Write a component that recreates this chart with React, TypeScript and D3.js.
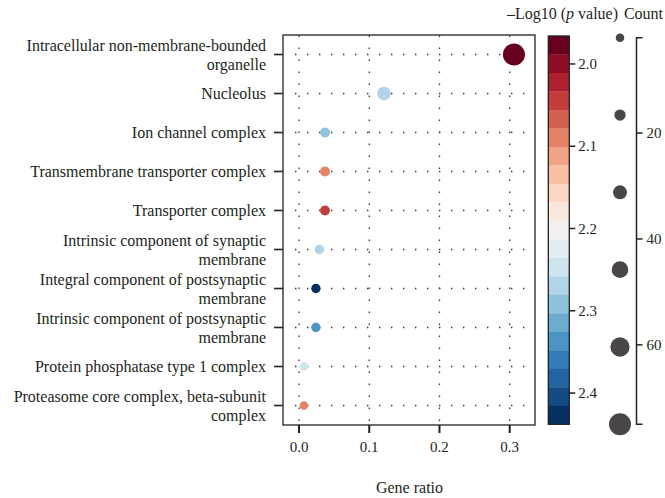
import React from "react";
import * as d3 from "d3";

const categories = [
  "Intracellular non-membrane-bounded\norganelle",
  "Nucleolus",
  "Ion channel complex",
  "Transmembrane transporter complex",
  "Transporter complex",
  "Intrinsic component of synaptic\nmembrane",
  "Integral component of postsynaptic\nmembrane",
  "Intrinsic component of postsynaptic\nmembrane",
  "Protein phosphatase type 1 complex",
  "Proteasome core complex, beta-subunit\ncomplex",
];
const geneRatio = [0.306, 0.121, 0.037, 0.037, 0.037, 0.029, 0.024, 0.024, 0.007, 0.007];
const counts = [75, 30, 9, 9, 9, 7, 6, 6, 2, 2];
const logP = [1.977, 2.27, 2.292, 2.09, 2.045, 2.27, 2.427, 2.337, 2.247, 2.09];

const xTicks = [0, 0.1, 0.2, 0.3];
const colorTicks = [2.0, 2.1, 2.2, 2.3, 2.4];
const countTicks = [20, 40, 60];
const legendCounts = [2, 16.6, 31.2, 45.8, 60.4, 75];
const nBands = 21;

const FONT = "'Liberation Serif', 'Times New Roman', serif";
const TXT = "#231f20";

export default function App() {
  const W = 665, H = 498;
  const plot = { l: 283, r: 535, t: 35, b: 425 };
  const x = d3.scaleLinear().domain([-0.0228, 0.336]).range([plot.l, plot.r]);
  const y = d3.scalePoint<string>().domain(categories).range([plot.t, plot.b]).padding(0.5);

  const bandColors = d3.range(nBands).map((i) => d3.interpolateRdBu(i / (nBands - 1)));
  const cDomain: [number, number] = [1.966, 2.438];
  const color = d3.scaleQuantize<string>().domain(cDomain).range(bandColors);
  const cb = { l: 548.3, r: 569.3, t: 36, b: 424.3 };
  const cy = d3.scaleLinear().domain(cDomain).range([cb.t, cb.b]);
  const bandH = (cb.b - cb.t) / nBands;

  const rScale = d3.scaleLinear().domain([2, 75]).range([4.3, 11]);
  const countY = d3.scaleLinear().domain([2, 75]).range([37.7, 424.3]);
  const axX = 636.5;
  const legX = 620;

  return (
    <svg width={W} height={H} style={{ position: "absolute", left: 0, top: 0, background: "#fff" }} fontFamily={FONT}>
      {/* grid */}
      <g stroke="#333" strokeWidth={1.3} strokeDasharray="1.4 10.6">
        {categories.map((c) => (
          <line key={"h" + c} x1={plot.l + 12} x2={plot.r} y1={y(c)} y2={y(c)} />
        ))}
        {xTicks.map((t) => (
          <line key={"v" + t} x1={x(t)} x2={x(t)} y1={plot.t + 0.5} y2={plot.b} />
        ))}
      </g>
      {/* points */}
      {categories.map((c, i) => (
        <circle key={"p" + i} cx={x(geneRatio[i])} cy={y(c)} r={rScale(counts[i])} fill={color(logP[i])} />
      ))}
      {/* frame */}
      <rect x={plot.l} y={plot.t} width={plot.r - plot.l} height={plot.b - plot.t} fill="none" stroke="#222" strokeWidth={1.3} />
      {/* y ticks & labels */}
      {categories.map((c) => {
        const yy = y(c)!;
        const lines = c.split("\n");
        return (
          <g key={"yl" + c}>
            <line x1={plot.l - 9} x2={plot.l} y1={yy} y2={yy} stroke="#222" strokeWidth={1.6} />
            {lines.length === 1 ? (
              <text x={266} y={yy + 5.5} textAnchor="end" fontSize={16} fill={TXT}>{lines[0]}</text>
            ) : (
              <text textAnchor="end" fontSize={16} fill={TXT}>
                <tspan x={266} y={yy - 4}>{lines[0]}</tspan>
                <tspan x={266} y={yy + 15}>{lines[1]}</tspan>
              </text>
            )}
          </g>
        );
      })}
      {/* x ticks */}
      {xTicks.map((t) => (
        <g key={"xt" + t}>
          <line x1={x(t)} x2={x(t)} y1={plot.b} y2={plot.b + 8} stroke="#222" strokeWidth={2} />
          <text x={x(t)} y={452} textAnchor="middle" fontSize={15} fill={TXT}>{d3.format(".1f")(t)}</text>
        </g>
      ))}
      <text x={(plot.l + plot.r) / 2 + 0.5} y={493} textAnchor="middle" fontSize={16} fill={TXT}>Gene ratio</text>

      {/* colorbar */}
      {bandColors.map((col, i) => (
        <rect key={"cb" + i} x={cb.l} y={cb.t + i * bandH} width={cb.r - cb.l} height={bandH + 0.3} fill={col} />
      ))}
      <rect x={cb.l} y={cb.t} width={cb.r - cb.l} height={cb.b - cb.t} fill="none" stroke="#222" strokeWidth={1.3} />
      {colorTicks.map((t) => (
        <g key={"ct" + t}>
          <line x1={cb.r} x2={cb.r + 6} y1={cy(t)} y2={cy(t)} stroke="#222" strokeWidth={1.5} />
          <text x={cb.r + 9} y={cy(t) + 5} fontSize={15} fill={TXT}>{d3.format(".1f")(t)}</text>
        </g>
      ))}
      <text x={562.5} y={19} textAnchor="middle" fontSize={16} fill={TXT}>
        –Log10 (<tspan fontStyle="italic">p</tspan> value)
      </text>

      {/* size legend */}
      {legendCounts.map((c, i) => (
        <circle key={"lc" + i} cx={legX} cy={countY(c)} r={rScale(c)} fill="#4a4646" />
      ))}
      <path
        d={`M${axX + 6},${countY(2)}H${axX}V${countY(75)}H${axX + 6}`}
        fill="none"
        stroke="#222"
        strokeWidth={1.5}
      />
      {countTicks.map((t) => (
        <g key={"kt" + t}>
          <line x1={axX} x2={axX + 6} y1={countY(t)} y2={countY(t)} stroke="#222" strokeWidth={1.5} />
          <text x={axX + 10} y={countY(t) + 5} fontSize={15} fill={TXT}>{t}</text>
        </g>
      ))}
      <text x={643.5} y={19} textAnchor="middle" fontSize={16} fill={TXT}>Count</text>
    </svg>
  );
}
